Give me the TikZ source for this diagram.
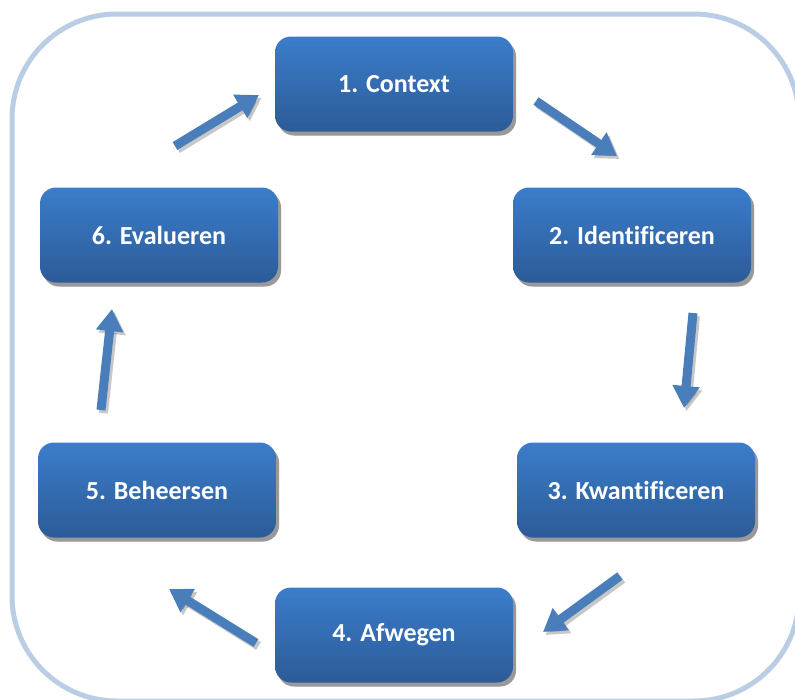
\documentclass[tikz,border=0pt]{standalone}
\usepackage{fontspec}
\setmainfont[Ligatures=CommonOff]{Carlito}
\usetikzlibrary{arrows.meta,shadows}
\definecolor{framec}{HTML}{B9CDE5}
\definecolor{boxtop}{HTML}{3B7DCA}
\definecolor{boxbot}{HTML}{2C5B98}
\definecolor{arrc}{HTML}{4A7EBB}
\begin{document}
\begin{tikzpicture}[x=1pt,y=-1pt,
  stepbox/.style={rounded corners=16pt, minimum width=238pt, minimum height=95pt,
    top color=boxtop, bottom color=boxbot, text=white,
    font=\bfseries\fontsize{26}{30}\selectfont,
    drop shadow={shadow xshift=3pt,shadow yshift=-4pt,opacity=0.4,top color=black!70,bottom color=black!70}},
  flow/.style={arrc, line width=9pt, -{Triangle[width=26pt,length=22pt]}},
  flowshadow/.style={black, opacity=0.22, line width=9pt, -{Triangle[width=26pt,length=22pt]}, transform canvas={shift={(2.5pt,-3pt)}}}]
\useasboundingbox (0,0) rectangle (795,699);
\clip (0,0) rectangle (795,699);
\draw[framec, line width=5pt, rounded corners=105pt] (12,14) rectangle (799,701);

\node[stepbox] (c1) at (394,84) {1. Context};
\node[stepbox] (c2) at (632,235) {2. Identificeren};
\node[stepbox] (c3) at (636,490) {3. Kwantificeren};
\node[stepbox] (c4) at (394,635) {4. Afwegen};
\node[stepbox] (c5) at (157,490) {5. Beheersen};
\node[stepbox] (c6) at (159,235) {6. Evalueren};

\coordinate (a12s) at (536,101); \coordinate (a12e) at (617,156);
\coordinate (a23s) at (693,313); \coordinate (a23e) at (684,408);
\coordinate (a34s) at (620,576); \coordinate (a34e) at (543,632);
\coordinate (a45s) at (256,643); \coordinate (a45e) at (169,589);
\coordinate (a56s) at (101,410); \coordinate (a56e) at (112,309);
\coordinate (a61s) at (175,146); \coordinate (a61e) at (259,95);

\foreach \p in {12,23,34,45,56,61}{
  \draw[flowshadow] (a\p s) -- (a\p e);
  \draw[flow] (a\p s) -- (a\p e);
}
\end{tikzpicture}
\end{document}
